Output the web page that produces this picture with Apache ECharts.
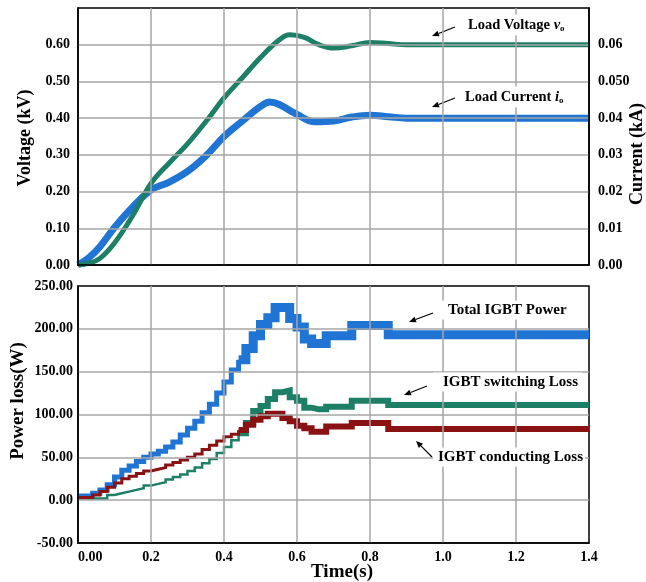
<!DOCTYPE html>
<html>
<head>
<meta charset="utf-8">
<script src="https://cdn.jsdelivr.net/npm/echarts@6/dist/echarts.min.js"></script>
<style>
  html, body { margin: 0; padding: 0; background: #fff; }
  #chart { width: 646px; height: 582px; }
</style>
</head>
<body>
<div id="chart"></div>
<script>
  // top panel: load voltage (kV, left axis) and load current (kA, right axis)
  var tVolt = [0, 0.03, 0.06, 0.1, 0.15, 0.2, 0.25, 0.3, 0.35, 0.4, 0.45, 0.5, 0.55, 0.58, 0.62, 0.66, 0.7, 0.75, 0.8, 0.85, 0.9, 1.0, 1.2, 1.4]
  var loadVoltage = [0, 0.005, 0.018, 0.06, 0.135, 0.222, 0.278, 0.33, 0.39, 0.455, 0.51, 0.565, 0.612, 0.627, 0.62, 0.60, 0.591, 0.597, 0.606, 0.603, 0.60, 0.60, 0.60, 0.60]
  var tCurr = [0, 0.03, 0.06, 0.1, 0.15, 0.2, 0.25, 0.3, 0.35, 0.4, 0.45, 0.5, 0.525, 0.55, 0.6, 0.65, 0.7, 0.75, 0.8, 0.85, 0.9, 1.0, 1.2, 1.4]
  var loadCurrent = [0, 0.002, 0.005, 0.0102, 0.0158, 0.0204, 0.0226, 0.0255, 0.0297, 0.035, 0.0392, 0.0432, 0.0444, 0.0438, 0.041, 0.039, 0.0392, 0.0403, 0.0408, 0.0404, 0.040, 0.040, 0.040, 0.040]

  // bottom panel: IGBT losses (W), each value holds until the next time
  var tLoss = [0, 0.02, 0.04, 0.06, 0.08, 0.10, 0.12, 0.14, 0.16, 0.18, 0.20, 0.22, 0.24, 0.26, 0.28, 0.30, 0.32, 0.34, 0.36, 0.38, 0.40, 0.42, 0.44, 0.46, 0.48, 0.50, 0.52, 0.54, 0.56, 0.58, 0.60, 0.62, 0.64, 0.66, 0.68, 0.75, 0.85, 1.40]
  var totalPower = [5, 5, 8, 12, 18, 27, 35, 40, 45, 50, 54, 57, 62, 68, 76, 84, 92, 102, 112, 125, 138, 152, 164, 177, 192, 205, 213, 225, 225, 212, 202, 188, 183, 183, 192, 204, 193, 193]
  var switchingLoss = [2, 2, 2, 2, 6, 8, 10, 12, 14, 17, 19, 21, 24, 27, 30, 34, 38, 43, 48, 55, 62, 70, 78, 90, 104, 110, 118, 126, 128, 120, 116, 108, 106, 106, 109, 116, 111, 111]
  var conductingLoss = [3, 3, 6, 10, 15, 20, 25, 28, 31, 34, 36, 38, 41, 44, 47, 50, 54, 59, 64, 69, 74, 77, 82, 88, 94, 98, 101, 101, 96, 92, 87, 84, 80, 80, 86, 90, 83, 83]

  // the traces get visibly thicker from about t = 0.44 s on
  var thickFrom = 22

  var FONT = "'Liberation Serif', 'Times New Roman', serif"
  var BLUE = '#1f74d4'
  var GREEN = '#1c7f66'
  var RED = '#8a1212'
  var GRIDC = '#a6a6a6'

  function pairs (t, v) {
    return t.map(function (x, i) { return [x, v[i]] })
  }

  var labelStyle = { fontFamily: FONT, fontWeight: 'bold', fontSize: 14, color: '#000' }
  var splitStyle = { show: true, showMinLine: false, showMaxLine: false, lineStyle: { color: GRIDC, width: 1.5 } }
  var blackLine = { show: true, onZero: false, lineStyle: { color: '#000', width: 1.5 } }

  function arrow (x1, y1, x2, y2) {
    var a = Math.atan2(y2 - y1, x2 - x1)
    var L = 7, W = 3
    var bx = x2 - L * Math.cos(a), by = y2 - L * Math.sin(a)
    return {
      type: 'group',
      z: 20,
      children: [
        { type: 'line', shape: { x1: x1, y1: y1, x2: bx, y2: by }, style: { stroke: '#000', lineWidth: 1.2 } },
        { type: 'polygon', shape: { points: [[x2, y2], [bx - W * Math.sin(a), by + W * Math.cos(a)], [bx + W * Math.sin(a), by - W * Math.cos(a)]] }, style: { fill: '#000' } }
      ]
    }
  }

  function note (x, y, text, size, pad, rich) {
    return {
      type: 'text',
      x: x,
      y: y,
      z: 20,
      style: {
        text: text,
        rich: rich,
        font: 'bold ' + size + 'px ' + FONT,
        fill: '#000',
        align: 'left',
        verticalAlign: 'middle',
        backgroundColor: '#fff',
        padding: pad
      }
    }
  }

  function axisName (x, y, text, size, rot) {
    return {
      type: 'text',
      x: x,
      y: y,
      rotation: rot,
      style: {
        text: text,
        font: 'bold ' + size + 'px ' + FONT,
        fill: '#000',
        align: 'center',
        verticalAlign: 'middle'
      }
    }
  }

  var subRich = {
    n: { fontFamily: FONT, fontWeight: 'bold', fontSize: 14.5 },
    v: { fontFamily: FONT, fontWeight: 'bold', fontStyle: 'italic', fontSize: 14.5 },
    s: { fontFamily: FONT, fontWeight: 'bold', fontSize: 9, padding: [8, 0, 0, 0] }
  }

  function stepLine (name, data, color, width) {
    return {
      name: name, type: 'line', xAxisIndex: 1, yAxisIndex: 2, z: 1,
      data: data, step: 'end', showSymbol: false,
      lineStyle: { color: color, width: width, cap: 'butt', join: 'miter' },
      itemStyle: { color: color }
    }
  }

  var blueLoss = pairs(tLoss, totalPower)
  var greenLoss = pairs(tLoss, switchingLoss)
  var redLoss = pairs(tLoss, conductingLoss)

  var option = {
    backgroundColor: '#fff',
    animation: false,
    grid: [
      { left: 78, right: 57, top: 8, height: 257, show: true, borderColor: '#000', borderWidth: 1.5 },
      { left: 78, right: 57, top: 286, height: 257, show: true, borderColor: '#000', borderWidth: 1.5 }
    ],
    xAxis: [
      {
        type: 'value', gridIndex: 0, min: 0, max: 1.4, interval: 0.2, z: 10,
        axisLine: blackLine, axisTick: { show: false }, axisLabel: { show: false },
        splitLine: splitStyle
      },
      {
        type: 'value', gridIndex: 1, min: 0, max: 1.4, interval: 0.2, z: 10,
        axisLine: blackLine, axisTick: { show: false },
        axisLabel: Object.assign({
          margin: 7,
          alignMinLabel: 'left',
          formatter: function (v) { return v === 0 ? '0.00' : v.toFixed(1) }
        }, labelStyle),
        splitLine: splitStyle
      }
    ],
    yAxis: [
      {
        type: 'value', gridIndex: 0, min: 0, max: 0.7, interval: 0.1, position: 'left', z: 10,
        axisLine: blackLine, axisTick: { show: false },
        axisLabel: Object.assign({
          margin: 8, showMaxLabel: false,
          formatter: function (v) { return v.toFixed(2) }
        }, labelStyle),
        splitLine: splitStyle
      },
      {
        type: 'value', gridIndex: 0, min: 0, max: 0.07, interval: 0.01, position: 'right', z: 10,
        axisLine: blackLine, axisTick: { show: false },
        axisLabel: Object.assign({
          margin: 9, showMaxLabel: false,
          formatter: function (v) { return Math.abs(v - 0.05) < 1e-9 ? '0.050' : v.toFixed(2) }
        }, labelStyle),
        splitLine: { show: false }
      },
      {
        type: 'value', gridIndex: 1, min: -50, max: 250, interval: 50, z: 10,
        axisLine: blackLine, axisTick: { show: false },
        axisLabel: Object.assign({
          margin: 5,
          formatter: function (v) { return v.toFixed(2) }
        }, labelStyle),
        splitLine: splitStyle
      }
    ],
    series: [
      {
        name: 'Load Current', type: 'line', xAxisIndex: 0, yAxisIndex: 1, z: 1,
        data: pairs(tCurr, loadCurrent), smooth: 0.4, showSymbol: false,
        lineStyle: { color: BLUE, width: 7 }, itemStyle: { color: BLUE }
      },
      {
        name: 'Load Voltage', type: 'line', xAxisIndex: 0, yAxisIndex: 0, z: 1,
        data: pairs(tVolt, loadVoltage), smooth: 0.4, showSymbol: false,
        lineStyle: { color: GREEN, width: 5 }, itemStyle: { color: GREEN }
      },
      stepLine('Total IGBT Power', blueLoss.slice(0, thickFrom + 1), BLUE, 5),
      stepLine('Total IGBT Power', blueLoss.slice(thickFrom), BLUE, 9),
      stepLine('IGBT switching Loss', greenLoss.slice(0, thickFrom + 1), GREEN, 2.5),
      stepLine('IGBT switching Loss', greenLoss.slice(thickFrom), GREEN, 6),
      stepLine('IGBT conducting Loss', redLoss.slice(0, thickFrom + 1), RED, 3),
      stepLine('IGBT conducting Loss', redLoss.slice(thickFrom), RED, 6)
    ],
    graphic: [
      axisName(25, 138, 'Voltage (kV)', 18, Math.PI / 2),
      axisName(637, 154, 'Current (kA)', 18, Math.PI / 2),
      axisName(18, 401, 'Power loss(W)', 19, Math.PI / 2),
      axisName(342, 572, 'Time(s)', 19, 0),
      note(460, 25, '{n|Load Voltage }{v|v}{s|o}', 14.5, [2, 4, 2, 8], subRich),
      arrow(455, 27, 432, 36),
      note(457, 97, '{n|Load Current }{v|i}{s|o}', 14.5, [2, 4, 2, 8], subRich),
      arrow(455, 98, 432, 107),
      note(440, 310, 'Total IGBT Power', 15, [2, 4, 2, 8]),
      arrow(433, 313, 409, 322),
      note(433, 382, 'IGBT switching Loss', 15, [2, 4, 2, 10]),
      arrow(427, 386, 404, 395),
      note(433, 457, 'IGBT conducting Loss', 15, [2, 2, 2, 5]),
      arrow(432, 457, 416, 441)
    ]
  }

  var chart = echarts.init(document.getElementById('chart'))
  chart.setOption(option)
</script>
</body>
</html>
